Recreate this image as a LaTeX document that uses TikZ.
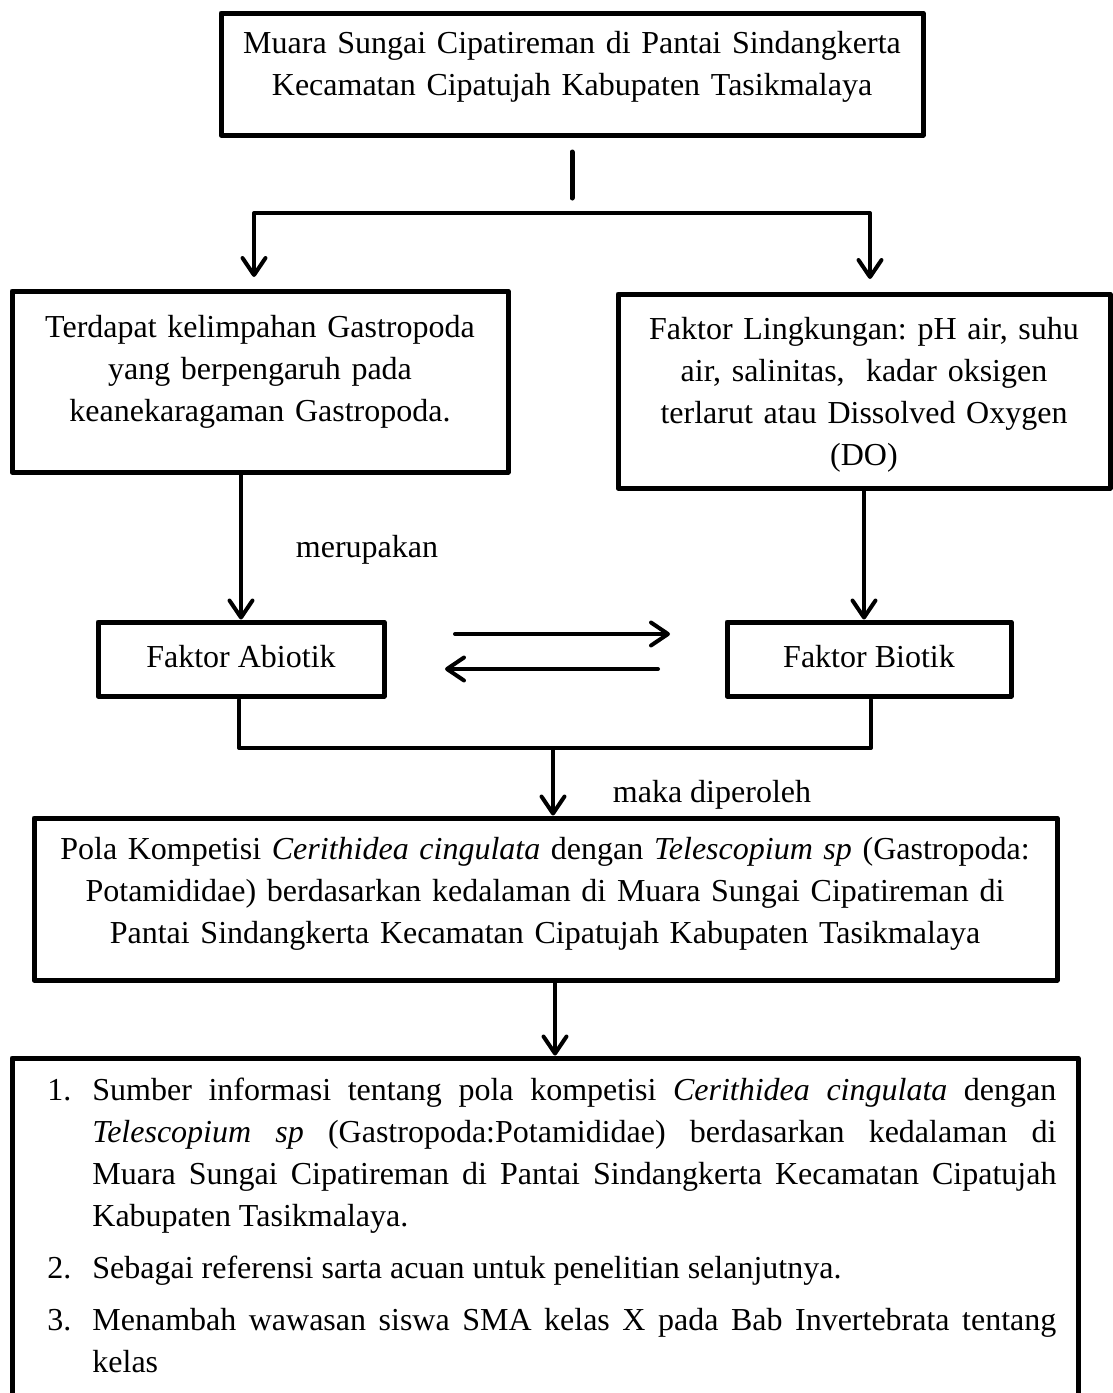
\documentclass[tikz,border=0pt]{standalone}
\usepackage{fontspec}
\setmainfont{Liberation Serif}
\usetikzlibrary{arrows.meta,fit}
\frenchspacing
\begin{document}
\begin{tikzpicture}[x=0.5pt,y=-0.5pt,
  box/.style={draw, line width=2.5pt, inner sep=0pt, line join=round},
  txt/.style={font=\fontsize{16pt}{21pt}\selectfont\frenchspacing, inner sep=0pt, anchor=base},
  ctxt/.style={txt, align=center},
  conn/.style={line width=2pt, line cap=round, line join=round},
  arr/.style={conn, -{Straight Barb[length=8.5pt,width=11.5pt,line cap=round,line join=round]}},
  darr/.style={conn, {Straight Barb[length=8.5pt,width=11.5pt,line cap=round,line join=round]}-{Straight Barb[length=8.5pt,width=11.5pt,line cap=round,line join=round]}}
]
\useasboundingbox (0,0) rectangle (1113,1393);
\clip (0,0) rectangle (1113,1393);

% boxes
\node[box, fit={(221,13) (923,135)}] (top) {};
\node[box, fit={(12,291) (508,472)}] (left) {};
\node[box, fit={(618,294) (1110,488)}] (right) {};
\node[box, fit={(98,622) (384,696)}] (abio) {};
\node[box, fit={(727,622) (1011,696)}] (bio) {};
\node[box, fit={(34,818) (1057,980)}] (pola) {};
\node[box, fit={(12,1058) (1078,1430)}] (info) {};

% texts
\node[ctxt, text width=351pt] (toptext) at (572,53)
  {Muara Sungai Cipatireman di Pantai Sindangkerta\\Kecamatan Cipatujah Kabupaten Tasikmalaya};
\node[ctxt, text width=240pt] (lefttext) at (260,337)
  {Terdapat kelimpahan Gastropoda\\yang berpengaruh pada\\keanekaragaman Gastropoda.};
\node[ctxt, text width=240pt] (righttext) at (864,339)
  {Faktor Lingkungan: pH air, suhu\\air, salinitas,\ \ kadar oksigen\\terlarut atau Dissolved Oxygen\\(DO)};
\node[txt] (abiotext) at (241,667) {Faktor Abiotik};
\node[txt] (biotext) at (869,667) {Faktor Biotik};
\node[ctxt, text width=510pt] (polatext) at (545,859)
  {Pola Kompetisi \textit{Cerithidea cingulata} dengan \textit{Telescopium sp} (Gastropoda:\\Potamididae) berdasarkan kedalaman di Muara Sungai Cipatireman di\\Pantai Sindangkerta Kecamatan Cipatujah Kabupaten Tasikmalaya};
\node[txt] (merupakan) at (367,557) {merupakan};
\node[txt] (maka) at (712,802) {maka diperoleh};

\node[txt, anchor=base west, text width=504.5pt, align=justify] (infotext) at (47,1100) {%
\noindent\hangindent=22.5pt\hangafter=1\makebox[22.5pt][l]{1.}Sumber informasi tentang pola kompetisi \textit{Cerithidea cingulata} dengan\linebreak
\textit{Telescopium sp} (Gastropoda:Potamididae) berdasarkan kedalaman di\linebreak
Muara Sungai Cipatireman di Pantai Sindangkerta Kecamatan Cipatujah\linebreak
Kabupaten Tasikmalaya.\par
\vspace{5pt}
\noindent\hangindent=22.5pt\hangafter=1\makebox[22.5pt][l]{2.}Sebagai referensi sarta acuan untuk penelitian selanjutnya.\par
\vspace{5pt}
\noindent\hangindent=22.5pt\hangafter=1\makebox[22.5pt][l]{3.}Menambah wawasan siswa SMA kelas X pada Bab Invertebrata tentang\linebreak
kelas\par};

% connector coordinates
\coordinate (s1) at (572,152);
\coordinate (s2) at (572,198);
\coordinate (bl) at (254,213);
\coordinate (br) at (870,213);
\coordinate (tl) at (254,277);
\coordinate (tr) at (870,279);
\coordinate (ha1) at (455,634);
\coordinate (ha2) at (670,634);
\coordinate (hb1) at (658,669);
\coordinate (hb2) at (445,669);
\coordinate (ja) at (239,700);
\coordinate (jb) at (871,700);
\coordinate (ma) at (553,748);

% connectors
\draw[conn, line width=2.5pt] (s1) -- (s2);
\draw[darr] (tl) -- (bl) -- (br) -- (tr);
\draw[arr] (abio.north |- left.south) -- (abio.north);
\draw[arr] (right.south) -- (right.south |- bio.north);
\draw[arr] (ha1) -- (ha2);
\draw[arr] (hb1) -- (hb2);
\draw[conn] (ja) |- (ma) -| (jb);
\draw[arr] (ma) -- (ma |- pola.north);
\draw[arr] (pola.south -| 555,0) -- (555,0 |- info.north);
\end{tikzpicture}
\end{document}
